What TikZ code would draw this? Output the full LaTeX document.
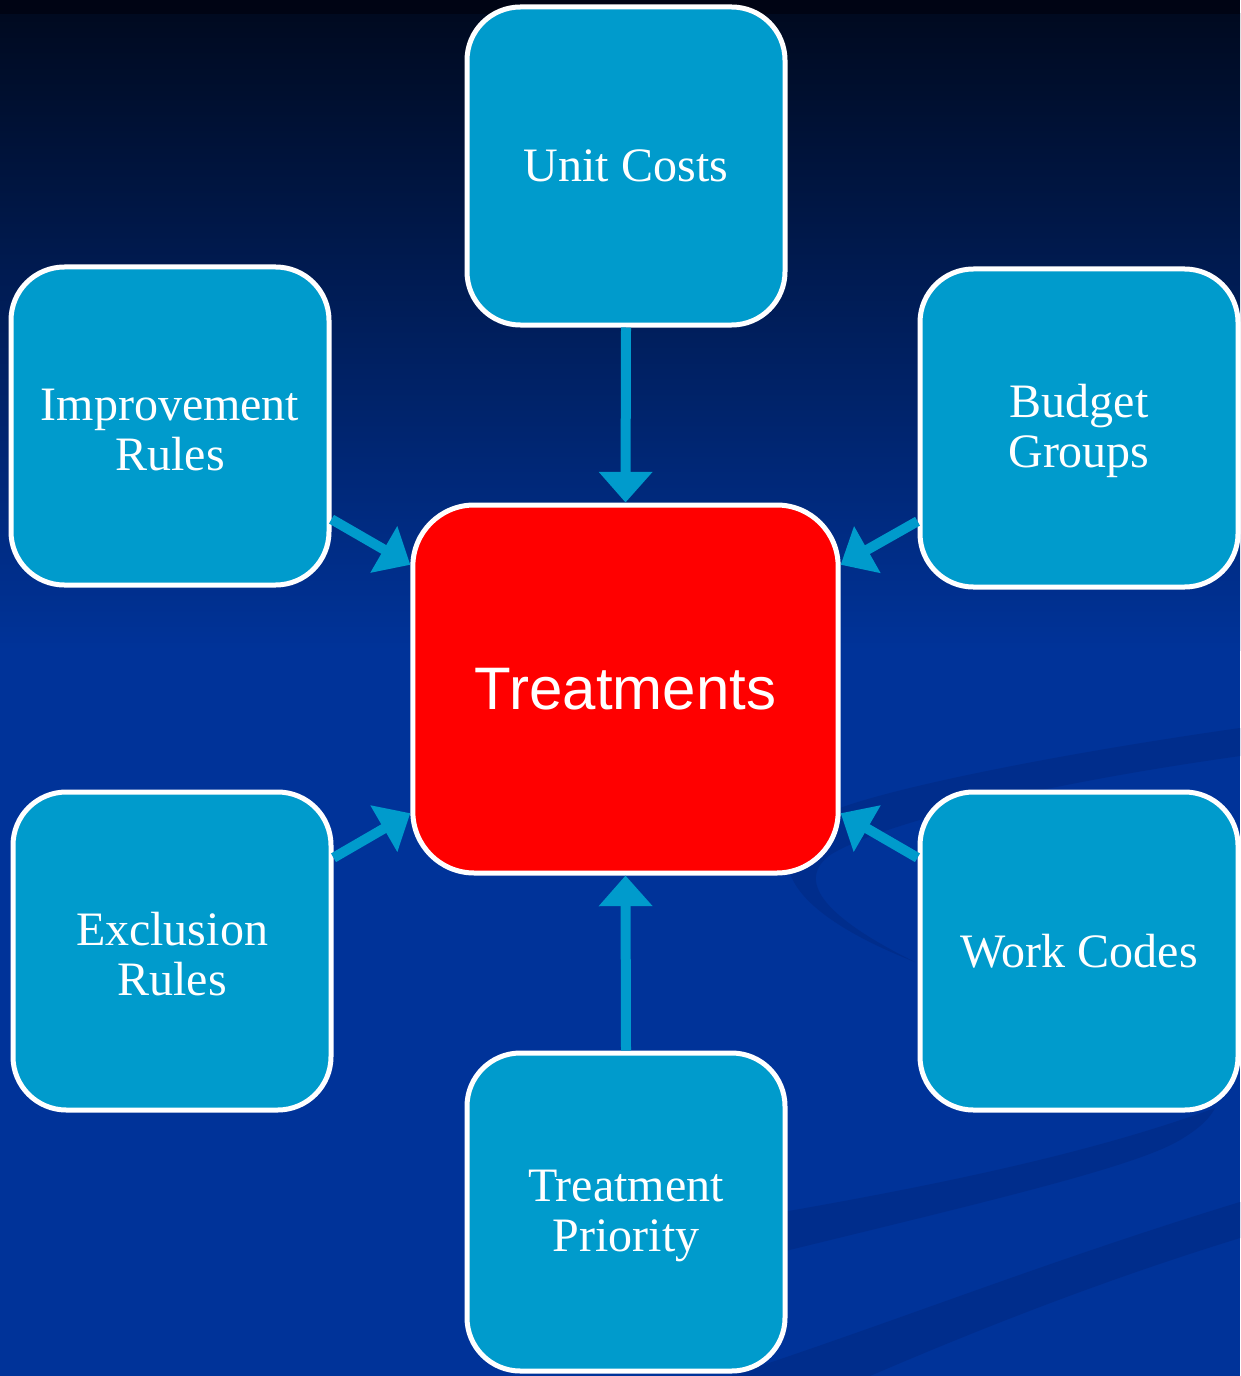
\documentclass[tikz,border=0pt]{standalone}
\usepackage{fontspec}
\setmainfont{Liberation Serif}
\newfontfamily\headfont{Liberation Sans}
\usetikzlibrary{arrows.meta}
\definecolor{bgblue}{RGB}{0,51,153}
\definecolor{bgtop}{RGB}{0,10,32}
\definecolor{bgstrip}{RGB}{0,4,20}
\definecolor{swoosh}{RGB}{0,45,140}
\definecolor{boxblue}{RGB}{0,155,204}
\definecolor{hotred}{RGB}{255,0,0}

\begin{document}
\begin{tikzpicture}[x=0.75pt,y=-0.75pt,
  topic/.style={draw=white, line width=3.75pt, fill=boxblue, rounded corners=40pt,
    minimum width=238.5pt, minimum height=238.5pt, inner sep=0pt, text=white,
    align=center, font=\fontsize{36}{37.5}\selectfont},
  twoline/.style={text height=66.5pt},
  hub/.style={draw=white, line width=3.75pt, fill=hotred, rounded corners=46pt,
    minimum width=319pt, minimum height=276pt, inner sep=0pt, text=white,
    font=\headfont\fontsize{45}{50}\selectfont},
  feed/.style={draw=boxblue, line width=7.5pt, -{Triangle[width=39pt,length=23pt]}}]

% background
\useasboundingbox (0,0) rectangle (1240,1376);
\fill[bgblue] (0,0) rectangle (1240,1376);
\shade[top color=bgtop, bottom color=bgblue] (0,14) rectangle (1240,650);
\fill[bgstrip] (0,0) rectangle (1240,14);

% decorative swooshes
\fill[swoosh] (1240,728) .. controls (1050,755) and (880,790) .. (830,812)
  .. controls (760,845) and (770,905) .. (915,962)
  .. controls (840,925) and (790,885) .. (830,855)
  .. controls (870,830) and (1000,790) .. (1240,756) -- cycle;
\fill[swoosh] (1215,1108) .. controls (1100,1150) and (950,1185) .. (700,1226)
  -- (700,1272) .. controls (950,1210) and (1130,1170) .. (1180,1140)
  .. controls (1200,1128) and (1210,1118) .. (1215,1108) -- cycle;
\fill[swoosh] (1240,1202) .. controls (1050,1260) and (900,1320) .. (730,1376)
  -- (870,1376) .. controls (1000,1320) and (1120,1275) .. (1240,1238) -- cycle;

% boxes
\node[topic] (uc) at (626,166) {Unit Costs};
\node[topic,twoline] (ir) at (170,426) {Improvement\\Rules};
\node[topic,twoline] (bg) at (1079,428) {Budget\\Groups};
\node[hub] (tr) at (625.5,689) {Treatments};
\node[topic,twoline] (er) at (172,951) {Exclusion\\Rules};
\node[topic] (wc) at (1079,951) {Work Codes};
\node[topic,twoline] (tp) at (626,1212) {Treatment\\Priority};

% inputs feeding the central box
\draw[feed] (uc.south) -- (tr.north);
\draw[feed] (ir.-30) -- (tr.150);
\draw[feed] (bg.210) -- (tr.30);
\draw[feed] (er.30) -- (tr.210);
\draw[feed] (wc.150) -- (tr.-30);
\draw[feed] (tp.north) -- (tr.south);
\end{tikzpicture}
\end{document}
